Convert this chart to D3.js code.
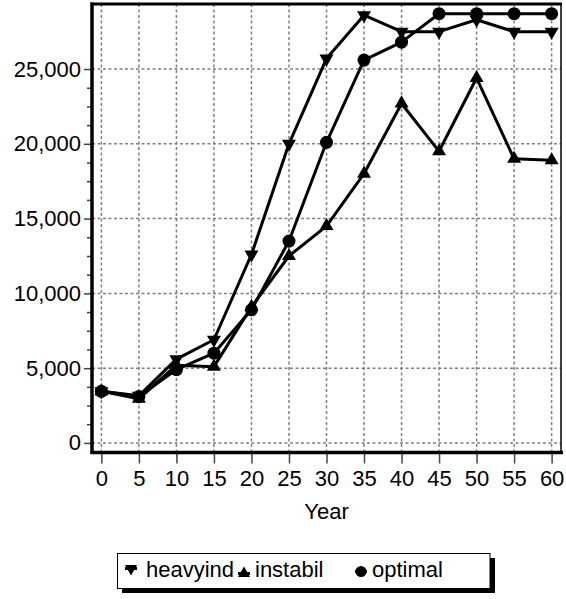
<!DOCTYPE html>
<html>
<head>
<meta charset="utf-8">
<script src="https://cdn.jsdelivr.net/npm/d3@7"></script>
<style>
html,body{margin:0;padding:0;background:#fff;}
svg{display:block;}
text{font-family:"Liberation Sans",Arial,Helvetica,sans-serif;fill:#000;}
</style>
</head>
<body>
<svg id="chart" width="566" height="599"></svg>
<script>
// ---- data ----
const years = [0, 5, 10, 15, 20, 25, 30, 35, 40, 45, 50, 55, 60];
const heavyind = [3450, 3150, 5600, 6900, 12600, 20000, 25700, 28600, 27500, 27500, 28300, 27500, 27500];
const instabil = [3450, 2950, 5200, 5100, 9100, 12500, 14500, 18000, 22700, 19500, 24400, 19000, 18900];
const optimal  = [3450, 3100, 4900, 6000, 8900, 13500, 20100, 25600, 26800, 28700, 28700, 28700, 28700];
const seriesNames = ["heavyind", "instabil", "optimal"];
const seriesShapes = ["down", "up", "circle"];
const yTicks = [0, 5000, 10000, 15000, 20000, 25000];
const xTicks = [0, 5, 10, 15, 20, 25, 30, 35, 40, 45, 50, 55, 60];
const xTitle = "Year";

// ---- layout ----
const svg = d3.select("#chart");
const L = 92, R = 561, T = 4, B = 452.5;
const FS = 22;
const x = d3.scaleLinear().domain([-1.25, 61.25]).range([L, R]);
const y = d3.scaleLinear().domain([-640, 29350]).range([B, T]);

// grid
const grid = svg.append("g");
grid.selectAll("line.v").data(xTicks).enter().append("line")
  .attr("x1", d => x(d)).attr("x2", d => x(d)).attr("y1", T).attr("y2", B)
  .attr("stroke", "#808080").attr("stroke-width", 1.5).attr("stroke-dasharray", "3,2.5");
grid.selectAll("line.h").data(yTicks).enter().append("line")
  .attr("x1", L).attr("x2", R).attr("y1", d => y(d)).attr("y2", d => y(d))
  .attr("stroke", "#808080").attr("stroke-width", 1.5).attr("stroke-dasharray", "3,2.5");

// y axis
const yMinor = d3.range(0, 25001, 1250);
const yAxis = d3.axisLeft(y).tickValues(yMinor)
  .tickFormat(d => yTicks.includes(d) ? d3.format(",")(d) : "")
  .tickSizeOuter(0).tickPadding(4);
const gy = svg.append("g").attr("transform", `translate(${L},0)`).call(yAxis);
gy.select(".domain").remove();
gy.selectAll(".tick line").attr("stroke", "#444").attr("stroke-width", 1.5)
  .attr("x2", d => yTicks.includes(d) ? -8 : -5);
gy.selectAll(".tick text").attr("font-size", FS).attr("x", -11)
  .attr("font-family", "Liberation Sans, Arial, sans-serif");

// x axis
const xAxis = d3.axisBottom(x).tickValues(xTicks).tickSizeOuter(0).tickSize(10).tickPadding(7);
const gx = svg.append("g").attr("transform", `translate(0,${B + 1})`).call(xAxis);
gx.select(".domain").remove();
gx.selectAll(".tick line").attr("stroke", "#444").attr("stroke-width", 1.5);
gx.selectAll(".tick text").attr("font-size", FS)
  .attr("font-family", "Liberation Sans, Arial, sans-serif");

// frame
svg.append("line").attr("x1", R).attr("x2", R).attr("y1", T).attr("y2", B)
  .attr("stroke", "#000").attr("stroke-width", 1.5);
svg.append("line").attr("x1", L - 1.5).attr("x2", R + 1).attr("y1", T).attr("y2", T)
  .attr("stroke", "#000").attr("stroke-width", 3);
svg.append("line").attr("x1", L).attr("x2", L).attr("y1", T - 1.5).attr("y2", B + 1.5)
  .attr("stroke", "#000").attr("stroke-width", 3.5);
svg.append("line").attr("x1", L - 1.5).attr("x2", R + 2).attr("y1", B).attr("y2", B)
  .attr("stroke", "#000").attr("stroke-width", 3.5);

// x title
svg.append("text").attr("x", (L + R) / 2).attr("y", 519).attr("text-anchor", "middle")
  .attr("font-size", FS).text(xTitle);

// marker path
function markerPath(shape, w) {
  if (shape === "circle") return d3.symbol(d3.symbolCircle, Math.PI * (w / 2) * (w / 2))();
  const h = w * Math.sqrt(3) / 2;
  if (shape === "up") return `M0,${-2 * h / 3}L${w / 2},${h / 3}L${-w / 2},${h / 3}Z`;
  return `M0,${2 * h / 3}L${w / 2},${-h / 3}L${-w / 2},${-h / 3}Z`;
}

const allSeries = [heavyind, instabil, optimal];
const line = d3.line().x((d, i) => x(years[i])).y(d => y(d));
allSeries.forEach((vals, si) => {
  const g = svg.append("g");
  g.append("path").datum(vals).attr("d", line).attr("fill", "none")
    .attr("stroke", "#000").attr("stroke-width", 3).attr("stroke-linejoin", "round");
  g.selectAll("path.m").data(vals).enter().append("path")
    .attr("transform", (d, i) => `translate(${x(years[i])},${y(d)})`)
    .attr("d", markerPath(seriesShapes[si], seriesShapes[si] === "circle" ? 13 : 14))
    .attr("fill", "#000");
});

// legend
const lg = svg.append("g");
lg.append("rect").attr("x", 122).attr("y", 558).attr("width", 373).attr("height", 35).attr("fill", "#000");
lg.append("rect").attr("x", 117.5).attr("y", 553.5).attr("width", 372.5).attr("height", 35)
  .attr("fill", "#fff").attr("stroke", "#000").attr("stroke-width", 1);
const legX = [131, 244, 361];
const legTx = [146, 255, 372];
const legY = [568.5, 573.5, 571.5];
seriesNames.forEach((name, i) => {
  lg.append("line").attr("x1", legX[i] - 6).attr("x2", legX[i] + 6)
    .attr("y1", legY[i]).attr("y2", legY[i]).attr("stroke", "#000").attr("stroke-width", 3);
  lg.append("path").attr("transform", `translate(${legX[i]},${legY[i]})`)
    .attr("d", markerPath(seriesShapes[i], seriesShapes[i] === "circle" ? 11 : 12)).attr("fill", "#000");
  lg.append("text").attr("x", legTx[i]).attr("y", 577).attr("font-size", FS).text(name);
});
</script>
</body>
</html>
